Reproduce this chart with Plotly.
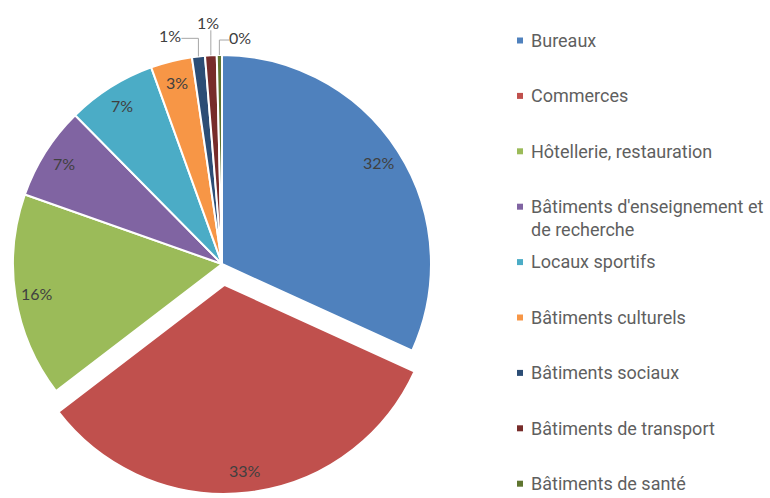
import math
import plotly.graph_objects as go

# ---------------- data ----------------
categories = [
    "Bureaux",
    "Commerces",
    "Hôtellerie, restauration",
    "Bâtiments d'enseignement et de recherche",
    "Locaux sportifs",
    "Bâtiments culturels",
    "Bâtiments sociaux",
    "Bâtiments de transport",
    "Bâtiments de santé",
]
legend_text = [
    "Bureaux",
    "Commerces",
    "Hôtellerie, restauration",
    "Bâtiments d'enseignement et<br>de recherche",
    "Locaux sportifs",
    "Bâtiments culturels",
    "Bâtiments sociaux",
    "Bâtiments de transport",
    "Bâtiments de santé",
]
shares = [31.8, 32.8, 15.8, 7.2, 6.9, 3.2, 1.0, 0.9, 0.4]

# ---------------- style ----------------
colors = ["#4F81BD", "#C0504D", "#9BBB59", "#8064A2", "#4BACC6",
          "#F79646", "#2C4D75", "#772C2A", "#5F7530"]
exploded = [False, True, False, False, False, False, False, False, False]
W, H = 770, 498
CX, CY, R = 222, 264, 209      # pie centre / radius in pixels
EXPLODE_PX = 21                # distance the exploded slice is pulled out
LABEL_R = 0.895
SMALL = 2.0
outside_offsets = {6: (-28, -21), 7: (-3, -33), 8: (21, -18)}
label_font = dict(family="Lato, Open Sans, sans-serif", size=16, color="#404040")
legend_font = dict(family="Roboto, sans-serif", size=18, color="#5f5f5f")
LEG_X_SQ, LEG_X_TXT, LEG_Y0, LEG_STEP, SQ = 520, 529, 40.5, 55.4, 3
line_color = "#A6A6A6"
TRANSP = "rgba(0,0,0,0)"


def px(x):
    return x / W


def py(y):
    return 1 - y / H


def domain_for(cx, cy):
    return dict(x=[px(cx - R), px(cx + R)], y=[py(cy + R), py(cy - R)])


total = sum(shares)
fracs = [v / total for v in shares]
mids = []
cum = 0.0
for f in fracs:
    mids.append((cum + f / 2) * 2 * math.pi)
    cum += f

# pull vector of the exploded slice
ex_i = exploded.index(True)
pdx = EXPLODE_PX * math.sin(mids[ex_i])
pdy = -EXPLODE_PX * math.cos(mids[ex_i])

base_colors = [TRANSP if e else c for c, e in zip(colors, exploded)]
base_lw = [0 if e else 2 for e in exploded]
pull_colors = [c if e else TRANSP for c, e in zip(colors, exploded)]
pull_lw = [2 if e else 0 for e in exploded]

common = dict(labels=categories, values=shares, sort=False, direction="clockwise",
              rotation=0, textinfo="none", hoverinfo="label+percent", showlegend=False)
fig = go.Figure()
fig.add_trace(go.Pie(**common,
                     marker=dict(colors=base_colors, line=dict(color="white", width=base_lw)),
                     domain=domain_for(CX, CY)))
fig.add_trace(go.Pie(**common,
                     marker=dict(colors=pull_colors, line=dict(color="white", width=pull_lw)),
                     domain=domain_for(CX + pdx, CY + pdy)))

annotations = []
shapes = []
for i, v in enumerate(shares):
    s, c = math.sin(mids[i]), math.cos(mids[i])
    ccx = CX + (pdx if exploded[i] else 0)
    ccy = CY + (pdy if exploded[i] else 0)
    txt = f"{round(fracs[i] * 100)}%"
    if v >= SMALL:
        lx = ccx + LABEL_R * R * s
        ly = ccy - LABEL_R * R * c
        annotations.append(dict(x=px(lx), y=py(ly), xref="paper", yref="paper",
                                text=txt, showarrow=False, font=label_font,
                                xanchor="center", yanchor="middle"))
    else:
        ex = ccx + R * s
        ey = ccy - R * c
        dx, dy = outside_offsets[i]
        lx, ly = ex + dx, ey + dy
        annotations.append(dict(x=px(lx), y=py(ly), xref="paper", yref="paper",
                                text=txt, showarrow=False, font=label_font,
                                xanchor="center", yanchor="middle"))
        if abs(dx) < 6:
            path = f"M {px(ex)} {py(ly + 8)} L {px(ex)} {py(ey)}"
        else:
            sx = lx + (11 if dx < 0 else -11)
            path = (f"M {px(sx)} {py(ly + 3)} L {px(ex)} {py(ly + 3)} "
                    f"L {px(ex)} {py(ey)}")
        shapes.append(dict(type="path", path=path, xref="paper", yref="paper",
                           line=dict(color=line_color, width=1)))

# legend
for i, name in enumerate(legend_text):
    yc = LEG_Y0 + i * LEG_STEP
    shapes.append(dict(type="rect", xref="paper", yref="paper",
                       x0=px(LEG_X_SQ - SQ), x1=px(LEG_X_SQ + SQ),
                       y0=py(yc + SQ), y1=py(yc - SQ),
                       fillcolor=colors[i], line=dict(width=0)))
    lh = legend_font["size"] * 1.3
    annotations.append(dict(x=px(LEG_X_TXT), y=py(yc - lh / 2 - 1), xref="paper", yref="paper",
                            text=name, showarrow=False, font=legend_font,
                            xanchor="left", yanchor="top", align="left"))

fig.update_layout(
    width=W, height=H,
    margin=dict(l=0, r=0, t=0, b=0),
    paper_bgcolor="white",
    plot_bgcolor="white",
    annotations=annotations,
    shapes=shapes,
    showlegend=False,
)
fig.write_html("out.html", config={"displayModeBar": False},
               post_script="document.body.style.margin='0px';")
